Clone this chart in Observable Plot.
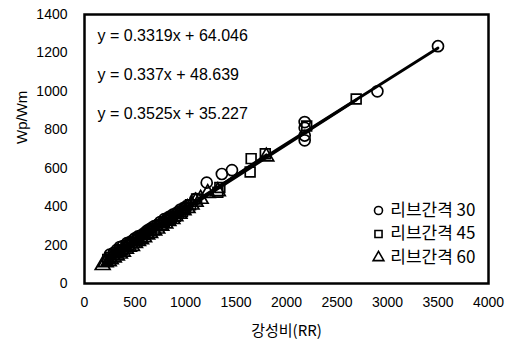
<!DOCTYPE html>
<html><head><meta charset="utf-8">
<script src="https://cdn.jsdelivr.net/npm/d3@7"></script>
<script src="https://cdn.jsdelivr.net/npm/@observablehq/plot@0.6"></script>
<style>body{margin:0;background:#fff}</style>
</head><body><div id="chart"></div>
<script>
const xTicks = [0, 500, 1000, 1500, 2000, 2500, 3000, 3500, 4000];
const yTicks = [0, 200, 400, 600, 800, 1000, 1200, 1400];
const xLabel = "강성비(RR)";
const yLabel = "Wp/Wm";
const seriesNames = ["리브간격 30", "리브간격 45", "리브간격 60"];
const equations = ["y = 0.3319x + 64.046", "y = 0.337x + 48.639", "y = 0.3525x + 35.227"];
const slopes = [0.3319, 0.337, 0.3525];
const intercepts = [64.046, 48.639, 35.227];

const rr30 = [250, 290, 320, 350, 380, 420, 450, 480, 500, 530, 560, 600, 620, 650, 680, 720, 750, 790, 820, 850, 880, 920, 950, 990, 1020, 1100, 1210, 1360, 1460, 2180, 2180, 2180, 2180, 2900, 3500];
const wp30 = [150, 160, 175, 190, 195, 210, 215, 225, 235, 245, 250, 265, 275, 285, 295, 305, 320, 335, 340, 350, 360, 370, 385, 395, 405, 440, 525, 570, 590, 840, 810, 770, 745, 1000, 1235];
const rr45 = [230, 260, 290, 320, 350, 380, 410, 440, 470, 500, 530, 570, 600, 630, 660, 690, 720, 760, 790, 830, 860, 900, 930, 970, 1000, 1050, 1110, 1320, 1340, 1640, 1650, 1790, 2200, 2690];
const wp45 = [125, 135, 150, 160, 170, 175, 190, 200, 210, 215, 230, 240, 255, 262, 275, 280, 300, 305, 320, 330, 345, 350, 365, 375, 390, 410, 440, 475, 500, 580, 650, 675, 820, 960];
const rr60 = [180, 210, 240, 260, 290, 320, 350, 380, 410, 440, 470, 500, 530, 560, 590, 620, 650, 690, 720, 760, 800, 830, 870, 900, 940, 980, 1020, 1060, 1100, 1150, 1220, 1320, 1800];
const wp60 = [95, 110, 115, 125, 135, 145, 155, 165, 180, 190, 195, 210, 220, 230, 240, 255, 262, 275, 285, 300, 312, 325, 335, 350, 362, 380, 392, 410, 425, 440, 470, 480, 660];

const symbols = ["circle", "square", "triangle"];
const rrs = [rr30, rr45, rr60];
const wps = [wp30, wp45, wp60];

const pts = rrs.map((rr, s) => rr.map((x, i) => ({x, y: wps[s][i]})));
const fits = rrs.map((rr, s) => {
  const lo = d3.min(rr), hi = d3.max(rr);
  return [lo, hi].map(x => ({x, y: slopes[s] * x + intercepts[s]}));
});

const latin = "'Liberation Sans', Arial, 'Noto Sans CJK KR', sans-serif";
const kr = "'Noto Sans CJK KR', 'Liberation Sans', sans-serif";

const marks = [
  Plot.axisX({ticks: xTicks, tickSize: 0, tickPadding: 14, tickFormat: d => String(d), label: null, fontSize: 14}),
  Plot.axisY({ticks: yTicks, tickSize: 0, tickPadding: 17, tickFormat: d => String(d), label: null, fontSize: 14}),
  ...pts.map((p, s) => Plot.dot(p, {x: "x", y: "y", symbol: symbols[s], r: 5.5, stroke: "#000", strokeWidth: 1.7, fill: "none"})),
  ...fits.map(f => Plot.line(f, {x: "x", y: "y", stroke: "#000", strokeWidth: 2.8})),
  Plot.frame({stroke: "#000", strokeWidth: 2.5}),
  ...equations.map((e, i) => Plot.text([e], {text: d => d, frameAnchor: "top-left", dx: 13, dy: 21 + i * 39, textAnchor: "start", lineAnchor: "middle", fontSize: 16, fill: "#000"})),
  ...seriesNames.map((n, i) => Plot.text([n], {text: d => d, frameAnchor: "bottom-right", dx: -13, dy: -73 + i * 23.5, textAnchor: "end", lineAnchor: "middle", fontSize: 17, fill: "#000", fontFamily: kr})),
  ...symbols.map((sym, i) => Plot.dot([sym], {symbol: d => d, frameAnchor: "bottom-right", dx: -110, dy: -73 + i * 23.5, r: 4, stroke: "#000", strokeWidth: 1.6, fill: "none"})),
  Plot.text([xLabel], {text: d => d, frameAnchor: "bottom", dy: 48, lineAnchor: "middle", fontSize: 15, fill: "#000", fontFamily: kr}),
  Plot.text([yLabel], {text: d => d, frameAnchor: "left", dx: -62, dy: -5, rotate: -90, lineAnchor: "middle", fontSize: 15, fill: "#000"})
];

const chart = Plot.plot({
  width: 507, height: 340,
  marginLeft: 84, marginRight: 19, marginTop: 14, marginBottom: 57,
  style: {fontFamily: latin, fontSize: "14px", color: "#000", background: "#fff"},
  x: {domain: [0, 4000]},
  y: {domain: [0, 1400]},
  symbol: {type: "identity"},
  marks
});
document.getElementById("chart").appendChild(chart);
</script></body></html>
